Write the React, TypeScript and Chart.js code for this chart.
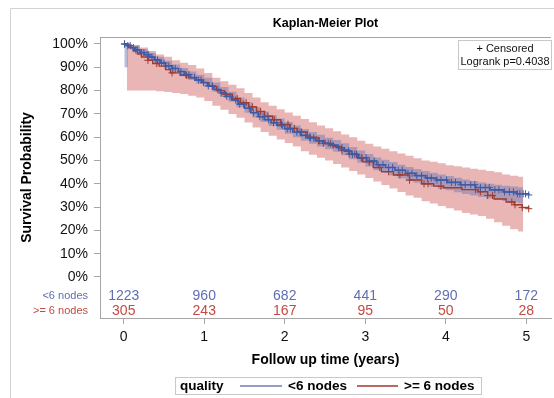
import React, { useEffect, useRef } from "react";
import { Chart, registerables } from "chart.js";

Chart.register(...registerables);

const FONT = '"Liberation Sans", Arial, Helvetica, sans-serif';

const titleText = "Kaplan-Meier Plot";
const xTitle = "Follow up time (years)";
const yTitle = "Survival Probability";
const legendTitle = "quality";
const groupLabels = ["<6 nodes", ">= 6 nodes"];
const insetLines = ["+ Censored", "Logrank p=0.4038"];

const xTicks = [0, 1, 2, 3, 4, 5];
const yTicks = [0, 0.1, 0.2, 0.3, 0.4, 0.5, 0.6, 0.7, 0.8, 0.9, 1.0];

// Kaplan-Meier step curve, group "<6 nodes"
const blueTimes = [0, 0.04, 0.09, 0.14, 0.2, 0.26, 0.32, 0.38, 0.45, 0.52, 0.6, 0.68, 0.75, 0.83, 0.9, 0.97, 1.04, 1.12, 1.2, 1.27, 1.34, 1.42, 1.5, 1.58, 1.67, 1.75, 1.83, 1.91, 2.0, 2.1, 2.2, 2.28, 2.38, 2.47, 2.56, 2.65, 2.74, 2.83, 2.92, 3.02, 3.14, 3.25, 3.37, 3.5, 3.62, 3.75, 3.88, 4.02, 4.18, 4.37, 4.55, 4.72, 4.88, 5.03];
const blueSurv = [1.0, 0.993, 0.984, 0.974, 0.963, 0.954, 0.944, 0.932, 0.918, 0.906, 0.895, 0.882, 0.869, 0.856, 0.845, 0.835, 0.82, 0.805, 0.79, 0.775, 0.76, 0.742, 0.724, 0.705, 0.688, 0.675, 0.662, 0.65, 0.636, 0.622, 0.608, 0.597, 0.585, 0.574, 0.566, 0.555, 0.54, 0.526, 0.512, 0.498, 0.482, 0.47, 0.458, 0.445, 0.435, 0.425, 0.416, 0.406, 0.396, 0.384, 0.374, 0.365, 0.357, 0.352];

// Kaplan-Meier step curve, group ">= 6 nodes"
const redTimes = [0, 0.06, 0.12, 0.17, 0.22, 0.3, 0.36, 0.44, 0.52, 0.58, 0.7, 0.8, 0.9, 0.98, 1.06, 1.15, 1.25, 1.35, 1.45, 1.55, 1.65, 1.75, 1.85, 1.95, 2.06, 2.16, 2.28, 2.4, 2.5, 2.6, 2.7, 2.8, 2.9, 2.97, 3.1, 3.2, 3.35, 3.55, 3.7, 3.85, 3.97, 4.2, 4.4, 4.52, 4.6, 4.75, 4.85, 4.95, 5.03];
const redSurv = [1.0, 0.985, 0.97, 0.957, 0.944, 0.93, 0.916, 0.905, 0.89, 0.876, 0.866, 0.855, 0.845, 0.834, 0.818, 0.8, 0.784, 0.766, 0.748, 0.73, 0.71, 0.69, 0.675, 0.655, 0.638, 0.622, 0.6, 0.585, 0.572, 0.56, 0.545, 0.528, 0.51, 0.494, 0.47, 0.452, 0.438, 0.416, 0.4, 0.39, 0.383, 0.375, 0.366, 0.35, 0.335, 0.322, 0.31, 0.298, 0.293];

// Censoring times
const blueCensor = [0.01, 0.05, 0.08, 0.12, 0.15, 0.17, 0.22, 0.25, 0.29, 0.31, 0.35, 0.39, 0.42, 0.47, 0.5, 0.56, 0.61, 0.64, 0.71, 0.77, 0.81, 0.88, 0.93, 0.99, 1.05, 1.1, 1.17, 1.21, 1.28, 1.32, 1.39, 1.44, 1.49, 1.56, 1.61, 1.69, 1.73, 1.8, 1.86, 1.9, 1.97, 2.03, 2.07, 2.15, 2.19, 2.26, 2.32, 2.36, 2.43, 2.48, 2.54, 2.6, 2.67, 2.71, 2.79, 2.84, 2.89, 2.95, 3.01, 3.05, 3.11, 3.16, 3.22, 3.29, 3.34, 3.41, 3.46, 3.53, 3.58, 3.64, 3.7, 3.77, 3.82, 3.89, 3.94, 4.01, 4.07, 4.12, 4.19, 4.24, 4.31, 4.36, 4.43, 4.49, 4.54, 4.61, 4.66, 4.73, 4.79, 4.84, 4.89, 4.92, 4.96, 4.99, 5.03];
const redCensor = [0.01, 0.3, 0.41, 0.6, 0.78, 0.96, 1.1, 1.26, 1.41, 1.52, 1.6, 1.7, 1.79, 1.87, 1.96, 2.04, 2.12, 2.21, 2.31, 2.42, 2.57, 2.71, 2.8, 2.87, 2.96, 3.05, 3.18, 3.29, 3.43, 3.55, 3.73, 3.78, 3.94, 4.37, 4.43, 4.52, 4.58, 4.82, 4.86, 4.95, 5.03];

// Confidence bands, group "<6 nodes"
const blueBandTimes = [0.01, 0.05, 0.1, 0.2, 0.3, 0.4, 0.5, 0.6, 0.7, 0.8, 0.9, 1.0, 1.1, 1.2, 1.3, 1.4, 1.5, 1.6, 1.7, 1.8, 1.9, 2.0, 2.1, 2.2, 2.3, 2.4, 2.5, 2.6, 2.7, 2.8, 2.9, 3.0, 3.1, 3.2, 3.3, 3.4, 3.5, 3.6, 3.7, 3.8, 3.9, 4.0, 4.1, 4.2, 4.3, 4.4, 4.5, 4.6, 4.7, 4.8, 4.9, 4.96];
const blueBandUpper = [1.0, 1.0, 0.995, 0.978, 0.962, 0.945, 0.928, 0.912, 0.897, 0.882, 0.868, 0.855, 0.835, 0.815, 0.795, 0.77, 0.75, 0.73, 0.71, 0.695, 0.68, 0.665, 0.65, 0.635, 0.622, 0.61, 0.598, 0.588, 0.574, 0.558, 0.543, 0.528, 0.513, 0.503, 0.493, 0.482, 0.472, 0.463, 0.455, 0.447, 0.44, 0.433, 0.426, 0.418, 0.412, 0.406, 0.4, 0.396, 0.392, 0.388, 0.385, 0.385];
const blueBandLower = [0.9, 0.985, 0.975, 0.95, 0.93, 0.912, 0.895, 0.878, 0.862, 0.845, 0.83, 0.815, 0.795, 0.772, 0.752, 0.728, 0.705, 0.685, 0.665, 0.648, 0.632, 0.615, 0.6, 0.585, 0.572, 0.56, 0.548, 0.538, 0.522, 0.505, 0.49, 0.474, 0.458, 0.446, 0.436, 0.424, 0.412, 0.404, 0.395, 0.387, 0.378, 0.372, 0.364, 0.356, 0.35, 0.343, 0.337, 0.332, 0.326, 0.321, 0.317, 0.317];

// Confidence bands, group ">= 6 nodes"
const redBandTimes = [0.04, 0.1, 0.2, 0.3, 0.4, 0.5, 0.6, 0.7, 0.8, 0.9, 1.0, 1.1, 1.2, 1.3, 1.4, 1.5, 1.6, 1.7, 1.8, 1.9, 2.0, 2.1, 2.2, 2.3, 2.4, 2.5, 2.6, 2.7, 2.8, 2.9, 3.0, 3.1, 3.2, 3.3, 3.4, 3.5, 3.6, 3.7, 3.8, 3.9, 4.0, 4.1, 4.2, 4.3, 4.4, 4.5, 4.6, 4.7, 4.8, 4.9, 4.96];
const redBandUpper = [1.0, 0.995, 0.985, 0.97, 0.955, 0.945, 0.93, 0.92, 0.91, 0.895, 0.875, 0.855, 0.84, 0.825, 0.81, 0.79, 0.77, 0.75, 0.735, 0.72, 0.706, 0.692, 0.678, 0.664, 0.65, 0.638, 0.625, 0.612, 0.6, 0.585, 0.572, 0.56, 0.55, 0.54, 0.53, 0.52, 0.51, 0.5, 0.495, 0.488, 0.48, 0.475, 0.47, 0.465, 0.46, 0.455, 0.45, 0.44, 0.435, 0.43, 0.43];
const redBandLower = [0.8, 0.8, 0.8, 0.8, 0.797, 0.794, 0.79, 0.785, 0.778, 0.77, 0.755, 0.735, 0.718, 0.7, 0.683, 0.663, 0.642, 0.622, 0.606, 0.59, 0.575, 0.56, 0.54, 0.525, 0.512, 0.5, 0.485, 0.47, 0.455, 0.44, 0.425, 0.41, 0.395, 0.38, 0.365, 0.35, 0.34, 0.325, 0.315, 0.305, 0.295, 0.285, 0.275, 0.268, 0.262, 0.25, 0.235, 0.22, 0.205, 0.195, 0.195];

// Numbers at risk
const atRiskTimes = [0, 1, 2, 3, 4, 5];
const blueAtRisk = [1223, 960, 682, 441, 290, 172];
const redAtRisk = [305, 243, 167, 95, 50, 28];

const BLUE = "#3d5aa8";
const RED = "#a23a2e";
const BLUE_TEXT = "#5f6fb4";
const RED_TEXT = "#c34a42";
const BLUE_BAND = "rgba(111,126,179,0.5)";
const RED_BAND = "rgba(208,91,91,0.45)";
const AXIS = "#a6a6a6";

function stepValue(times: number[], vals: number[], t: number) {
  let v = vals[0];
  for (let i = 0; i < times.length; i++) if (times[i] <= t) v = vals[i];
  return v;
}
const pts = (ts: number[], vs: number[]) => ts.map((t, i) => ({ x: t, y: vs[i] }));
// explicit step path (horizontal then vertical)
const stepPts = (ts: number[], vs: number[]) => {
  const out: { x: number; y: number }[] = [];
  ts.forEach((t, i) => {
    if (i > 0) out.push({ x: t, y: vs[i - 1] });
    out.push({ x: t, y: vs[i] });
  });
  return out;
};
// closed band outline: upper edge forward, lower edge backward
const bandShape = (ts: number[], up: number[], lo: number[]) =>
  stepPts(ts, up).concat(stepPts(ts, lo).reverse());

const decor = {
  id: "decor",
  afterDraw(chart: any) {
    const { ctx, chartArea: ca, scales } = chart;
    const xs = scales.x;
    ctx.save();
    ctx.strokeStyle = "#d2d2d2";
    ctx.lineWidth = 1;
    ctx.beginPath();
    ctx.moveTo(10.5, chart.height);
    ctx.lineTo(10.5, 8.5);
    ctx.lineTo(chart.width, 8.5);
    ctx.stroke();
    ctx.strokeStyle = AXIS;
    ctx.beginPath();
    ctx.moveTo(ca.left, ca.top + 0.5);
    ctx.lineTo(ca.right, ca.top + 0.5);
    ctx.stroke();
    ctx.fillStyle = "#000";
    ctx.textAlign = "center";
    ctx.textBaseline = "middle";
    ctx.font = `bold 12.5px ${FONT}`;
    ctx.fillText(titleText, (ca.left + ca.right) / 2, 24);
    ctx.strokeStyle = "#c8c8c8";
    ctx.strokeRect(458.5, 40.5, 93, 29);
    ctx.font = `11px ${FONT}`;
    ctx.fillStyle = "#111";
    ctx.fillText(insetLines[0], 505, 48.5);
    ctx.fillText(insetLines[1], 505, 62);
    const yB = ca.bottom - 22;
    const yR = ca.bottom - 7;
    ctx.font = `14px ${FONT}`;
    atRiskTimes.forEach((t, i) => {
      const px = xs.getPixelForValue(t);
      ctx.fillStyle = BLUE_TEXT;
      ctx.fillText(String(blueAtRisk[i]), px, yB);
      ctx.fillStyle = RED_TEXT;
      ctx.fillText(String(redAtRisk[i]), px, yR);
    });
    ctx.textAlign = "right";
    ctx.font = `11px ${FONT}`;
    ctx.fillStyle = BLUE_TEXT;
    ctx.fillText(groupLabels[0], ca.left - 12, yB);
    ctx.fillStyle = RED_TEXT;
    ctx.fillText(groupLabels[1], ca.left - 12, yR);
    ctx.strokeStyle = "#c8c8c8";
    ctx.strokeRect(175.5, 377.5, 306, 17);
    ctx.textAlign = "left";
    ctx.fillStyle = "#000";
    ctx.font = `bold 13.5px ${FONT}`;
    ctx.fillText(legendTitle, 180, 386.5);
    ctx.lineWidth = 1.5;
    ctx.strokeStyle = "#6f7eb3";
    ctx.beginPath();
    ctx.moveTo(240, 386);
    ctx.lineTo(282, 386);
    ctx.stroke();
    ctx.fillText(groupLabels[0], 288, 386.5);
    ctx.strokeStyle = RED;
    ctx.beginPath();
    ctx.moveTo(357, 386);
    ctx.lineTo(398, 386);
    ctx.stroke();
    ctx.fillText(groupLabels[1], 404, 386.5);
    ctx.restore();
  },
};

export default function App() {
  const ref = useRef<HTMLCanvasElement>(null);
  useEffect(() => {
    const lineBase = { pointRadius: 0, fill: false, stepped: true as const };
    const bandBase = { pointRadius: 0, borderColor: "rgba(0,0,0,0)", borderWidth: 0.001, tension: 0, fill: "shape" };
    const chart = new Chart(ref.current as HTMLCanvasElement, {
      type: "line",
      data: {
        datasets: [
          { ...lineBase, data: pts(blueTimes, blueSurv), borderColor: BLUE, borderWidth: 1.6, order: 0 },
          {
            data: blueCensor.map((t) => ({ x: t, y: stepValue(blueTimes, blueSurv, t) })),
            showLine: false, pointStyle: "cross", pointRadius: 3.6, borderColor: BLUE, pointBorderColor: BLUE, pointBorderWidth: 1, order: 0,
          },
          { ...lineBase, data: pts(redTimes, redSurv), borderColor: RED, borderWidth: 1.4, order: 1 },
          {
            data: redCensor.map((t) => ({ x: t, y: stepValue(redTimes, redSurv, t) })),
            showLine: false, pointStyle: "cross", pointRadius: 3.6, borderColor: RED, pointBorderColor: RED, pointBorderWidth: 1, order: 1,
          },
          { ...bandBase, data: bandShape(blueBandTimes, blueBandUpper, blueBandLower), backgroundColor: BLUE_BAND, order: 2 },
          { ...bandBase, data: bandShape(redBandTimes, redBandUpper, redBandLower), backgroundColor: RED_BAND, order: 3 },
        ] as any,
      },
      options: {
        responsive: false,
        animation: false,
        devicePixelRatio: 1,
        layout: { padding: { top: 37, left: 0, right: 0, bottom: 0 } },
        plugins: { legend: { display: false }, tooltip: { enabled: false }, title: { display: false } },
        scales: {
          x: {
            type: "linear",
            min: -0.295,
            max: 5.307,
            afterBuildTicks: (s: any) => { s.ticks = xTicks.map((v) => ({ value: v })); },
            afterFit: (s: any) => { s.height = 80; },
            ticks: { color: "#111", font: { family: FONT, size: 14 }, padding: 4.3, callback: (v: any) => String(v) },
            grid: { drawOnChartArea: false, drawTicks: true, tickLength: 6, color: AXIS },
            border: { display: true, color: AXIS },
            title: { display: true, text: xTitle, color: "#000", font: { family: FONT, size: 14, weight: "bold" }, padding: { top: 0, bottom: 29.6 } },
          },
          y: {
            type: "linear",
            min: -0.176,
            max: 1.03,
            afterBuildTicks: (s: any) => { s.ticks = yTicks.map((v) => ({ value: v })); },
            afterFit: (s: any) => { s.width = 100; },
            ticks: { color: "#111", font: { family: FONT, size: 14 }, padding: 6, callback: (v: any) => `${Math.round(Number(v) * 100)}%` },
            grid: { drawOnChartArea: false, drawTicks: true, tickLength: 6, color: AXIS },
            border: { display: true, color: AXIS },
            title: { display: true, text: yTitle, color: "#000", font: { family: FONT, size: 14, weight: "bold" }, padding: { top: 19, bottom: 0 } },
          },
        },
      } as any,
      plugins: [decor],
    });
    return () => chart.destroy();
  }, []);
  return (
    <div style={{ position: "fixed", left: 0, top: 0, width: 554, height: 398, overflow: "hidden", background: "#fff" }}>
      <canvas ref={ref} width={556} height={398} style={{ display: "block", width: 556, height: 398 }} />
    </div>
  );
}
